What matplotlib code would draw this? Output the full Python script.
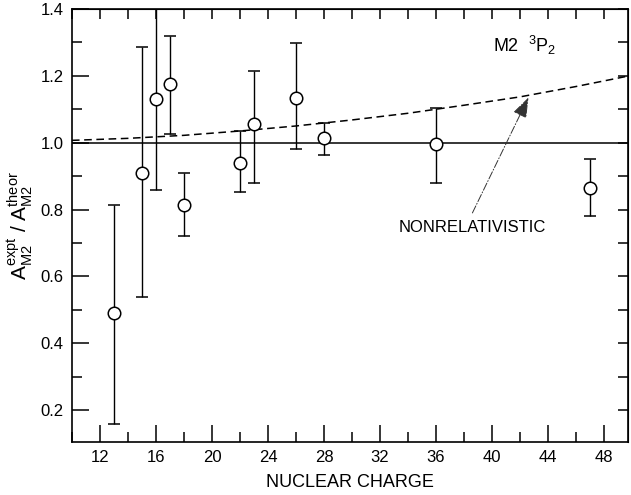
import numpy as np
import matplotlib.pyplot as plt
from matplotlib.ticker import MultipleLocator, NullFormatter

plt.rcParams['font.family'] = ['Liberation Sans', 'DejaVu Sans']
plt.rcParams['mathtext.fontset'] = 'custom'
plt.rcParams['mathtext.rm'] = 'Liberation Sans'
plt.rcParams['mathtext.it'] = 'Liberation Sans'

# nuclear charge, measured ratio, lower / upper ends of error bars
z_vals = [13, 15, 16, 17, 18, 22, 23, 26, 28, 36, 47]
ratio = [0.49, 0.91, 1.13, 1.175, 0.815, 0.94, 1.055, 1.135, 1.013, 0.995, 0.865]
err_lo = [0.16, 0.54, 0.86, 1.025, 0.72, 0.853, 0.879, 0.982, 0.962, 0.878, 0.78]
err_hi = [0.815, 1.285, 1.50, 1.32, 0.908, 1.036, 1.214, 1.297, 1.06, 1.104, 0.95]

# nonrelativistic curve
curva_z = [10, 14, 18, 22, 26, 30, 34, 38, 42, 46, 49.7]
curva_r = [1.007, 1.013, 1.022, 1.035, 1.050, 1.068, 1.088, 1.112, 1.137, 1.168, 1.199]

fig = plt.figure(figsize=(6.31, 4.95), dpi=100)
ax = fig.add_axes([0.114, 0.107, 0.881, 0.875])

ratio = np.array(ratio)
yerr = [ratio - np.array(err_lo), np.array(err_hi) - ratio]

ax.axhline(1.0, color='black', lw=1.1, zorder=1)
ax.plot(curva_z, curva_r, color='black', lw=1.1, ls=(0, (5, 3)), zorder=1)

ax.errorbar(z_vals, ratio, yerr=yerr, fmt='o', ms=9, mfc='white',
            mec='black', mew=1.1, ecolor='black', elinewidth=1.0,
            capsize=4, capthick=1.0, zorder=3)

ax.set_xlim(10, 49.7)
ax.set_ylim(0.105, 1.4)

ax.xaxis.set_major_locator(MultipleLocator(4))
ax.xaxis.set_minor_locator(MultipleLocator(2))
ax.yaxis.set_major_locator(MultipleLocator(0.2))
ax.yaxis.set_minor_locator(MultipleLocator(0.1))
ax.set_yticks([0.2, 0.4, 0.6, 0.8, 1.0, 1.2, 1.4])
ax.set_yticklabels(['0.2', '0.4', '0.6', '0.8', '1.0', '1.2', '1.4'])
ax.set_xticks(range(12, 49, 4))

ax.tick_params(which='major', direction='in', length=12, width=1.1,
               labelsize=12, pad=6)
ax.tick_params(which='minor', direction='in', length=7, width=1.1)

top = ax.secondary_xaxis('top')
top.xaxis.set_major_locator(MultipleLocator(2))
top.xaxis.set_major_formatter(NullFormatter())
top.tick_params(direction='in', length=7, width=1.1)

right = ax.secondary_yaxis('right')
right.yaxis.set_major_locator(MultipleLocator(0.1))
right.yaxis.set_major_formatter(NullFormatter())
right.tick_params(direction='in', length=7, width=1.1)

for sp in ax.spines.values():
    sp.set_linewidth(1.2)

ax.set_xlabel('NUCLEAR CHARGE', fontsize=13, labelpad=6)
ax.set_ylabel(r'$\mathregular{A_{M2}^{expt}\ /\ A_{M2}^{theor}}$', fontsize=15,
              labelpad=4)

ax.text(40.1, 1.29, r'M2  $\mathregular{^3P_2}$', fontsize=13, ha='left',
        va='center')

ax.text(38.6, 0.745, 'NONRELATIVISTIC', fontsize=12, ha='center',
        va='center')
ax.annotate('', xy=(42.6, 1.135), xytext=(38.6, 0.79),
            arrowprops=dict(arrowstyle='-|>,head_length=0.7,head_width=0.25',
                            color='#333333', lw=0.7, ls=(0, (8, 2, 1, 2)),
                            mutation_scale=18, shrinkA=0, shrinkB=0))

fig.savefig('out.png', dpi=100)
